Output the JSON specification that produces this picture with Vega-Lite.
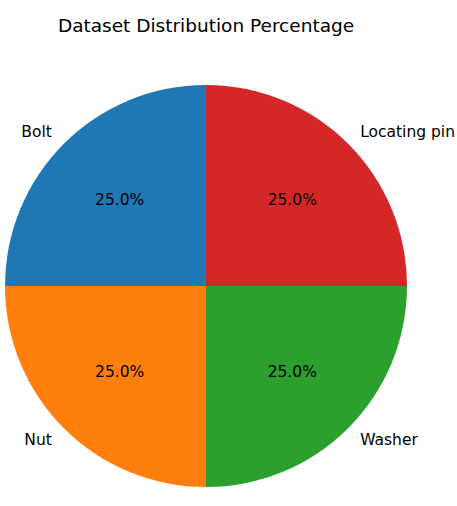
{
  "$schema": "https://vega.github.io/schema/vega-lite/v6.json",
  "width": 412,
  "height": 492,
  "autosize": "none",
  "padding": {"left": 0, "top": 40, "right": 45, "bottom": 0},
  "view": {"stroke": null},
  "title": {"text": "Dataset Distribution Percentage", "font": "DejaVu Sans", "fontSize": 18.5, "fontWeight": "normal", "color": "#000000", "anchor": "middle", "offset": 5},
  "data": {"values": [
    {"label": "Locating pin", "value": 25, "ord": 1, "side": "right"},
    {"label": "Washer", "value": 25, "ord": 2, "side": "right"},
    {"label": "Nut", "value": 25, "ord": 3, "side": "left"},
    {"label": "Bolt", "value": 25, "ord": 4, "side": "left"}
  ]},
  "transform": [
    {"joinaggregate": [{"op": "sum", "field": "value", "as": "total"}]},
    {"calculate": "datum.value / datum.total", "as": "pct"},
    {"stack": "value", "groupby": [], "sort": [{"field": "ord", "order": "ascending"}], "as": ["t0", "t1"]},
    {"calculate": "(datum.t0 + datum.t1) / 2", "as": "tmid"}
  ],
  "encoding": {
    "color": {"field": "label", "type": "nominal", "legend": null,
      "scale": {"domain": ["Bolt", "Nut", "Washer", "Locating pin"], "range": ["#1f77b4", "#ff7f0e", "#2ca02c", "#d62728"]}}
  },
  "layer": [
    {"mark": {"type": "arc", "outerRadius": 201},
     "encoding": {
       "theta": {"field": "t0", "type": "quantitative", "stack": null, "scale": {"domain": [0, 100]}},
       "theta2": {"field": "t1"}
     }},
    {"mark": {"type": "text", "radius": 122, "font": "DejaVu Sans", "fontSize": 15.5, "align": "center", "baseline": "middle"},
     "encoding": {
       "theta": {"field": "tmid", "type": "quantitative", "stack": null, "scale": {"domain": [0, 100]}},
       "text": {"field": "pct", "type": "quantitative", "format": ".1%"}, "color": {"value": "#000000"}}},
    {"transform": [{"filter": "datum.side == 'left'"}],
     "mark": {"type": "text", "radius": 218, "font": "DejaVu Sans", "fontSize": 15.5, "align": "right", "baseline": "middle"},
     "encoding": {
       "theta": {"field": "tmid", "type": "quantitative", "stack": null, "scale": {"domain": [0, 100]}},
       "text": {"field": "label", "type": "nominal"}, "color": {"value": "#000000"}}},
    {"transform": [{"filter": "datum.side == 'right'"}],
     "mark": {"type": "text", "radius": 218, "font": "DejaVu Sans", "fontSize": 15.5, "align": "left", "baseline": "middle"},
     "encoding": {
       "theta": {"field": "tmid", "type": "quantitative", "stack": null, "scale": {"domain": [0, 100]}},
       "text": {"field": "label", "type": "nominal"}, "color": {"value": "#000000"}}}
  ]
}
